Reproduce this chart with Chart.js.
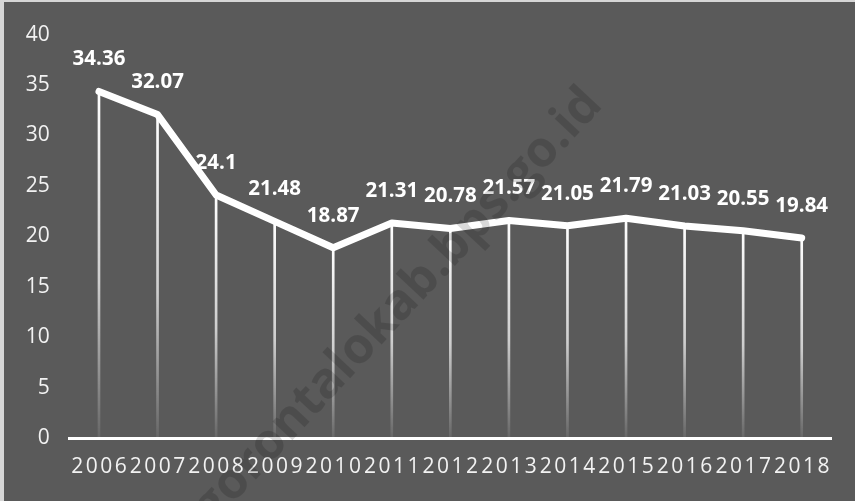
<!DOCTYPE html>
<html>
<head>
<meta charset="utf-8">
<script src="https://cdn.jsdelivr.net/npm/chart.js@4.4.1/dist/chart.umd.min.js"></script>
<style>
    html, body { margin: 0; padding: 0; background: #d6d6d6; }
    #wrap { position: absolute; left: 4px; top: 2px; width: 851px; height: 499px; background: #5a5a5a; }
</style>
</head>
<body>
<div id="wrap"><canvas id="chart" width="851" height="499"></canvas></div>
<script>
// Datos del gráfico
const years = ['2006', '2007', '2008', '2009', '2010', '2011', '2012', '2013', '2014', '2015', '2016', '2017', '2018'];
const values = [34.36, 32.07, 24.1, 21.48, 18.87, 21.31, 20.78, 21.57, 21.05, 21.79, 21.03, 20.55, 19.84];
const yTicks = [0, 5, 10, 15, 20, 25, 30, 35, 40];
const watermark = 'gorontalokab.bps.go.id';

// Etiquetas de valor encima de cada punto
const valueLabels = {
    id: 'valueLabels',
    afterDatasetsDraw(chart) {
        const ctx = chart.ctx;
        const meta = chart.getDatasetMeta(1);
        ctx.save();
        ctx.font = 'bold 20.5px "Open Sans"';
        ctx.fillStyle = '#ffffff';
        ctx.textAlign = 'center';
        ctx.textBaseline = 'middle';
        meta.data.forEach((pt, i) => {
            ctx.fillText(String(values[i]), pt.x, pt.y - 32);
        });
        ctx.restore();
    }
};

// Etiquetas del eje X con espaciado entre letras
const xLabels = {
    id: 'xLabels',
    afterDraw(chart) {
        const ctx = chart.ctx;
        const x = chart.scales.x;
        const spacing = 2.5;
        ctx.save();
        ctx.font = '21px "Open Sans"';
        ctx.fillStyle = '#f2f2f2';
        ctx.textAlign = 'left';
        ctx.textBaseline = 'middle';
        years.forEach((label, i) => {
            const chars = label.split('');
            const widths = chars.map(c => ctx.measureText(c).width);
            const total = widths.reduce((a, b) => a + b, 0) + spacing * (chars.length - 1);
            let cx = x.getPixelForValue(i) - total / 2;
            chars.forEach((c, j) => {
                ctx.fillText(c, cx, x.bottom - 34);
                cx += widths[j] + spacing;
            });
        });
        ctx.restore();
    }
};

// Marca de agua
const watermarkPlugin = {
    id: 'watermark',
    afterDraw(chart) {
        const ctx = chart.ctx;
        ctx.save();
        ctx.translate(394, 304);
        ctx.rotate(-47 * Math.PI / 180);
        ctx.font = 'bold 50px "Open Sans"';
        ctx.fillStyle = 'rgba(0, 0, 0, 0.15)';
        ctx.textAlign = 'center';
        ctx.textBaseline = 'middle';
        ctx.fillText(watermark, 0, 0);
        ctx.restore();
    }
};

const ctx = document.getElementById('chart').getContext('2d');

new Chart(ctx, {
    data: {
        labels: years,
        datasets: [
            {
                // líneas verticales hasta el eje
                type: 'bar',
                data: values,
                order: 2,
                barThickness: 2,
                backgroundColor: (c) => {
                    const chart = c.chart;
                    if (!chart.chartArea || c.raw === undefined) return '#ffffff';
                    const yTop = chart.scales.y.getPixelForValue(c.raw);
                    const yBot = chart.scales.y.getPixelForValue(0);
                    const g = chart.ctx.createLinearGradient(0, yTop, 0, yBot);
                    g.addColorStop(0, 'rgba(255,255,255,1)');
                    g.addColorStop(0.55, 'rgba(255,255,255,0.7)');
                    g.addColorStop(1, 'rgba(255,255,255,0.08)');
                    return g;
                }
            },
            {
                type: 'line',
                data: values,
                order: 1,
                borderColor: '#ffffff',
                borderWidth: 7,
                borderCapStyle: 'round',
                borderJoinStyle: 'round',
                pointRadius: 0,
                tension: 0
            }
        ]
    },
    options: {
        responsive: false,
        animation: false,
        layout: { padding: { top: 30, right: 24, left: 0, bottom: 0 } },
        plugins: {
            legend: { display: false },
            tooltip: { enabled: false }
        },
        scales: {
            x: {
                offset: true,
                grid: { display: false, drawTicks: false },
                border: { display: true, color: '#ffffff', width: 3 },
                ticks: { display: false },
                afterFit: (s) => { s.height = 63; }
            },
            y: {
                min: 0,
                max: 40,
                afterBuildTicks: (s) => { s.ticks = yTicks.map(v => ({ value: v })); },
                grid: { display: false, drawTicks: false },
                border: { display: false },
                ticks: {
                    color: '#f2f2f2',
                    font: { family: '"Open Sans"', size: 21 },
                    padding: 20
                },
                afterFit: (s) => { s.width = 65.7; }
            }
        }
    },
    plugins: [valueLabels, xLabels, watermarkPlugin]
});
</script>
</body>
</html>
